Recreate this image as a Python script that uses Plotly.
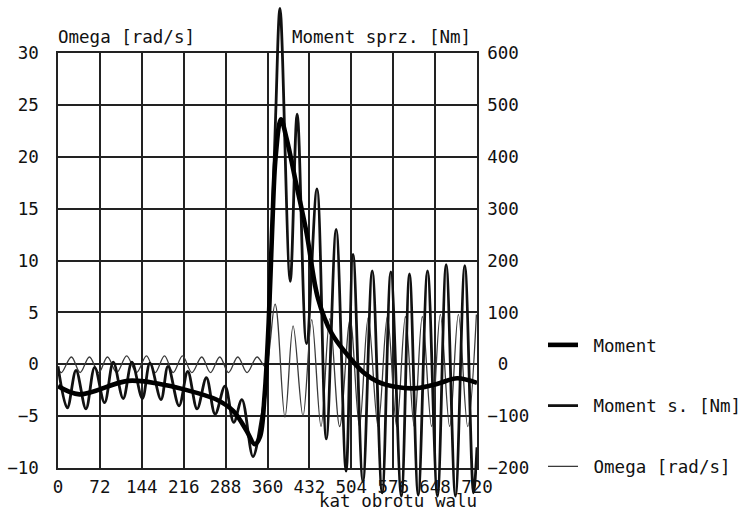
import plotly.graph_objects as go

# ---------------- data ----------------
angle_ticks = [0, 72, 144, 216, 288, 360, 432, 504, 576, 648, 720]
omega_ticks = [-10, -5, 0, 5, 10, 15, 20, 25, 30]
moment_ticks = [-200, -100, 0, 100, 200, 300, 400, 500, 600]

# "Moment" (thick), Nm
moment_x = [0, 37, 120, 175, 215, 272, 301, 324, 338, 347, 355, 362, 368, 374, 383,
            393, 410, 427, 447, 470, 496, 525, 550, 582, 617, 651, 686, 720]
moment_y = [-42, -58, -32, -38, -48, -68, -90, -128, -154, -140, -60, 80, 260, 400, 472,
            434, 344, 254, 126, 60, 20, -16, -34, -44, -46, -38, -27, -36]

# "Moment s. [Nm]" (medium), Nm
ms_x = [0, 16, 31, 48, 63, 80, 95, 112, 127, 145, 158, 177, 189, 208, 223, 239, 255,
        270, 287, 302, 316, 335, 350, 358, 366, 374, 381.5, 399, 411, 427, 445, 461,
        478, 495, 507, 524, 540, 557, 572, 590, 604, 619, 635, 652, 667, 683, 699,
        714, 720]
ms_y = [-4, -84, -12, -86, -6, -74, 4, -66, 4, -66, 2, -68, -4, -80, -14, -86, -26,
        -96, -42, -112, -68, -178, -100, -40, 200, 480, 686, 160, 482, 40, 338, -144,
        260, -206, 212, -226, 180, -248, 178, -254, 174, -252, 180, -254, 192, -254, 190,
        -248, -160]

# "Omega [rad/s]" (thin), rad/s
om_x = [0, 6, 23, 38, 54, 70, 85, 101, 118, 135, 152, 167, 183, 198, 214, 230, 247,
        262, 278, 293, 309, 325, 342, 356, 373, 390, 404, 421, 436, 452, 467, 484,
        502, 518, 533, 550, 566, 582, 597, 612, 626, 642, 657, 673, 688, 704, 719]
om_y = [-0.5, -0.8, 0.7, -0.8, 0.7, -0.8, 0.7, -0.8, 0.8, -0.8, 0.8, -0.8, 0.8, -0.8,
        0.8, -0.8, 0.7, -0.8, 0.7, -0.8, 0.7, -0.8, 0.7, -0.2, 5.8, -5.1, 3.7, -5.0,
        4.3, -6.0, 4.4, -6.0, 4.3, -6.0, 4.5, -6.0, 4.6, -6.0, 4.6, -6.0, 4.6, -6.0,
        4.8, -6.0, 4.8, -6.0, 4.8]

# ---------------- geometry ----------------
W, H = 749, 512
L, R, T, B = 58, 272, 5, 7
PW, PH = W - L - R, H - T - B
frame_top, frame_bot = 53, 468
dom = [(H - B - frame_bot) / PH, (H - B - frame_top) / PH]
ppu = (frame_bot - frame_top) / 40.0
lo = -10 - (H - B - frame_bot) / ppu
hi = 30 + (frame_top - T) / ppu


def px(x):
    return (x - L) / PW


def py(y):
    return (H - B - y) / PH


def minus(v):
    return str(v).replace("-", "\u2212")


FONT = "DejaVu Sans Mono"
FS = 17.5
INK = "#111111"
GRID = "#222222"

fig = go.Figure()

# empty traces so the framed grid subplot (left and right axes) is drawn
fig.add_trace(go.Scatter(x=[], y=[], xaxis="x", yaxis="y", showlegend=False,
                         hoverinfo="skip"))
fig.add_trace(go.Scatter(x=[], y=[], xaxis="x", yaxis="y2", showlegend=False,
                         hoverinfo="skip"))

fig.add_trace(go.Scatter(
    x=om_x, y=om_y, xaxis="x2", yaxis="y3", mode="lines",
    name="\u00a0Omega [rad/s]", legendgroup="c", legendrank=3,
    line=dict(color="#3a3a3a", width=1.3, shape="spline", smoothing=1.0),
))
fig.add_trace(go.Scatter(
    x=ms_x, y=ms_y, xaxis="x2", yaxis="y4", mode="lines",
    name="\u00a0Moment s. [Nm]", legendgroup="b", legendrank=2,
    line=dict(color=INK, width=2.8, shape="spline", smoothing=1.0),
))
fig.add_trace(go.Scatter(
    x=moment_x, y=moment_y, xaxis="x2", yaxis="y4", mode="lines",
    name="\u00a0Moment", legendgroup="a", legendrank=1,
    line=dict(color="#000000", width=4.6, shape="spline", smoothing=1.0),
))

axis_common = dict(gridcolor=GRID, gridwidth=1.5, zeroline=False,
                   showline=True, linecolor=GRID, linewidth=1.5, ticks="",
                   tickfont=dict(family=FONT, size=FS, color=INK))

right_text = [minus(v) if v != 0 else "\u00a00" for v in moment_ticks]

fig.update_layout(
    width=W, height=H,
    margin=dict(l=L, r=R, t=T, b=B, pad=0, autoexpand=False),
    paper_bgcolor="white", plot_bgcolor="rgba(0,0,0,0)",
    font=dict(family=FONT, size=FS, color=INK),
    showlegend=True,
    legend=dict(x=px(543), y=py(327), xanchor="left", yanchor="top",
                bgcolor="rgba(0,0,0,0)", borderwidth=0, tracegroupgap=35,
                font=dict(family=FONT, size=FS, color=INK)),
    xaxis=dict(domain=[0, 1], range=[0, 720], anchor="y", tickvals=angle_ticks,
               ticktext=[str(v) for v in angle_ticks], mirror=True, showgrid=True,
               ticklabelstandoff=2, **axis_common),
    yaxis=dict(domain=dom, range=[-10, 30], anchor="x", tickvals=omega_ticks,
               ticktext=[minus(v) for v in omega_ticks],
               showgrid=True, ticklabelstandoff=14, **axis_common),
    yaxis2=dict(overlaying="y", side="right", range=[-200, 600], anchor="x",
                tickvals=moment_ticks, ticktext=right_text,
                showgrid=False, ticklabelstandoff=5, **axis_common),
    xaxis2=dict(domain=[0, 1], range=[0, 720], anchor="y3", visible=False),
    yaxis3=dict(domain=[0, 1], range=[lo, hi], anchor="x2", visible=False),
    yaxis4=dict(overlaying="y3", range=[lo * 20, hi * 20], anchor="x2", visible=False),
    annotations=[
        dict(text="Omega [rad/s]", xref="paper", yref="paper", x=px(56), y=py(37),
             xanchor="left", yanchor="middle", showarrow=False,
             font=dict(family=FONT, size=FS, color=INK)),
        dict(text="Moment sprz. [Nm]", xref="paper", yref="paper", x=px(473), y=py(37),
             xanchor="right", yanchor="middle", showarrow=False,
             font=dict(family=FONT, size=FS, color=INK)),
        dict(text="kat obrotu walu", xref="paper", yref="paper", x=px(479), y=py(501),
             xanchor="right", yanchor="middle", showarrow=False,
             font=dict(family=FONT, size=FS, color=INK)),
    ],
)

fig.write_html("out.html")
